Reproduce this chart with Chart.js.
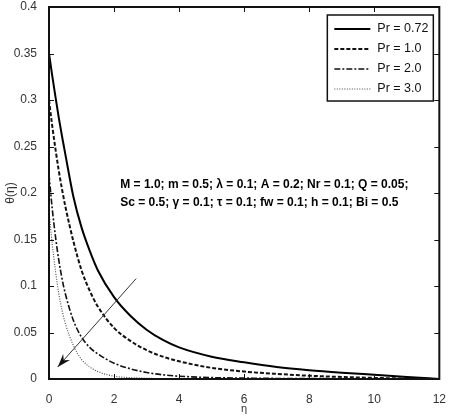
<!DOCTYPE html>
<html>
<head>
<meta charset="utf-8">
<script src="https://cdn.jsdelivr.net/npm/chart.js@4"></script>
<style>
  html, body { margin: 0; padding: 0; background: #fff; }
  #wrap { width: 451px; height: 416px; }
</style>
</head>
<body>
<div id="wrap"><canvas id="thetaChart" width="451" height="416"></canvas></div>
<script>
// eta grid shared by all curves
const eta = [0, 0.1, 0.2, 0.3, 0.4, 0.5, 0.75, 1, 1.25, 1.5, 2, 2.5, 3, 3.5, 4, 5, 6, 7, 8, 9, 10, 11, 12];

const prLabels = ["Pr = 0.72", "Pr = 1.0", "Pr = 2.0", "Pr = 3.0"];

const thetaPr072 = [0.35, 0.326, 0.303, 0.281, 0.261, 0.242, 0.196, 0.163, 0.138, 0.117, 0.088, 0.068, 0.053, 0.042, 0.034, 0.024, 0.018, 0.013, 0.0095, 0.0068, 0.0045, 0.0022, 0];
const thetaPr10  = [0.30, 0.272, 0.247, 0.224, 0.204, 0.186, 0.148, 0.117, 0.095, 0.078, 0.055, 0.041, 0.031, 0.024, 0.019, 0.012, 0.008, 0.0055, 0.0035, 0.0022, 0.0012, 0.0005, 0];
const thetaPr20  = [0.22, 0.183, 0.153, 0.128, 0.108, 0.092, 0.063, 0.045, 0.034, 0.027, 0.017, 0.011, 0.007, 0.0045, 0.003, 0.0015, 0.001, 0.0006, 0.0004, 0.0003, 0.0002, 0.0001, 0];
const thetaPr30  = [0.18, 0.145, 0.116, 0.092, 0.074, 0.060, 0.036, 0.021, 0.013, 0.008, 0.003, 0.0015, 0.0008, 0.0004, 0.0002, 0.0001, 0, 0, 0, 0, 0, 0, 0];

const xTicks = [0, 2, 4, 6, 8, 10, 12];
const yTicks = [0, 0.05, 0.1, 0.15, 0.2, 0.25, 0.3, 0.35, 0.4];

const paramText = [
    "M = 1.0; m = 0.5; \u03bb = 0.1; A = 0.2; Nr = 0.1; Q = 0.05;",
    "Sc = 0.5; \u03b3 = 0.1; \u03c4 = 0.1; fw = 0.1; h = 0.1; Bi = 0.5"
];
const paramAt = { x: 2.19, y: 0.209 };   // text anchor in data units
const arrowFrom = { x: 2.68, y: 0.108 }; // arrow (increasing Pr)
const arrowTo = { x: 0.27, y: 0.013 };

const dashes = [[], [4, 2], [6, 2, 2, 2], [1, 1.5]];
const widths = [2, 2, 1.6, 1.1];
const colors = ["#000", "#111", "#111", "#444"];
const series = [thetaPr072, thetaPr10, thetaPr20, thetaPr30];

const datasets = series.map((vals, i) => ({
    label: prLabels[i],
    data: eta.map((e, k) => ({ x: e, y: vals[k] })),
    borderColor: colors[i],
    borderWidth: widths[i],
    borderDash: dashes[i],
    pointRadius: 0,
    fill: false,
    cubicInterpolationMode: "monotone"
}));

const FONT = "'Liberation Sans', Arial, sans-serif";

const decor = {
    id: "decor",
    afterDraw(chart) {
        const ctx = chart.ctx;
        const xs = chart.scales.x, ys = chart.scales.y;
        const a = chart.chartArea;
        ctx.save();

        // box + inward ticks
        ctx.strokeStyle = "#111";
        ctx.lineWidth = 2;
        ctx.strokeRect(a.left, a.top, a.right - a.left, a.bottom - a.top);
        ctx.lineWidth = 1;
        ctx.beginPath();
        xTicks.forEach(t => {
            const px = Math.round(xs.getPixelForValue(t)) + 0.5;
            ctx.moveTo(px, a.bottom); ctx.lineTo(px, a.bottom - 5);
            ctx.moveTo(px, a.top); ctx.lineTo(px, a.top + 5);
        });
        yTicks.forEach(t => {
            const py = Math.round(ys.getPixelForValue(t)) + 0.5;
            ctx.moveTo(a.left, py); ctx.lineTo(a.left + 5, py);
            ctx.moveTo(a.right, py); ctx.lineTo(a.right - 5, py);
        });
        ctx.stroke();

        // parameter text
        ctx.fillStyle = "#000";
        ctx.font = "bold 12px " + FONT;
        ctx.textBaseline = "middle";
        ctx.textAlign = "left";
        const tx = xs.getPixelForValue(paramAt.x), ty = ys.getPixelForValue(paramAt.y);
        paramText.forEach((s, i) => ctx.fillText(s, tx, ty + i * 18));

        // arrow
        const x1 = xs.getPixelForValue(arrowFrom.x), y1 = ys.getPixelForValue(arrowFrom.y);
        const x2 = xs.getPixelForValue(arrowTo.x), y2 = ys.getPixelForValue(arrowTo.y);
        ctx.strokeStyle = "#333";
        ctx.lineWidth = 1;
        ctx.beginPath(); ctx.moveTo(x1, y1); ctx.lineTo(x2, y2); ctx.stroke();
        const ang = Math.atan2(y2 - y1, x2 - x1);
        ctx.fillStyle = "#111";
        ctx.beginPath();
        ctx.moveTo(x2, y2);
        ctx.lineTo(x2 - 14 * Math.cos(ang - 0.33), y2 - 14 * Math.sin(ang - 0.33));
        ctx.lineTo(x2 - 9 * Math.cos(ang), y2 - 9 * Math.sin(ang));
        ctx.lineTo(x2 - 14 * Math.cos(ang + 0.33), y2 - 14 * Math.sin(ang + 0.33));
        ctx.closePath();
        ctx.fill();

        // legend box, top right inside the axes
        const bw = 106, bh = 86;
        const bx = a.right - 112, by = a.top + 8;
        ctx.fillStyle = "#fff";
        ctx.fillRect(bx, by, bw, bh);
        ctx.strokeStyle = "#111";
        ctx.lineWidth = 1.5;
        ctx.strokeRect(bx, by, bw, bh);
        ctx.font = "12.5px " + FONT;
        ctx.textBaseline = "middle";
        prLabels.forEach((lab, i) => {
            const ly = by + 14 + i * 20;
            ctx.strokeStyle = colors[i];
            ctx.lineWidth = widths[i];
            ctx.setLineDash(dashes[i]);
            ctx.beginPath(); ctx.moveTo(bx + 7, ly); ctx.lineTo(bx + 43, ly); ctx.stroke();
            ctx.setLineDash([]);
            ctx.fillStyle = "#111";
            ctx.fillText(lab, bx + 50, ly);
        });
        ctx.restore();
    }
};

new Chart(document.getElementById("thetaChart"), {
    type: "line",
    data: { datasets: datasets },
    options: {
        responsive: false,
        animation: false,
        layout: { padding: { top: 0, right: 2, left: 3, bottom: 0 } },
        plugins: { legend: { display: false }, tooltip: { enabled: false } },
        scales: {
            x: {
                type: "linear", min: 0, max: 12,
                afterFit: s => { s.height = 37; },
                afterBuildTicks: s => { s.ticks = xTicks.map(v => ({ value: v })); },
                grid: { display: false },
                border: { display: false },
                ticks: { color: "#333", font: { family: FONT, size: 12 }, padding: 5, callback: v => v },
                title: { display: true, text: "\u03b7", color: "#333", font: { family: FONT, size: 11 }, padding: { top: 2, bottom: 0 } }
            },
            y: {
                type: "linear", min: 0, max: 0.4,
                afterFit: s => { s.width = 46; },
                afterBuildTicks: s => { s.ticks = yTicks.map(v => ({ value: v })); },
                grid: { display: false },
                border: { display: false },
                ticks: { color: "#333", font: { family: FONT, size: 12, lineHeight: 0.5 }, padding: 4, callback: v => String(+v.toFixed(2)) },
                title: { display: true, text: "\u03b8(\u03b7)", color: "#333", font: { family: FONT, size: 12 }, padding: { top: 0, bottom: 2 } }
            }
        }
    },
    plugins: [decor]
});
</script>
</body>
</html>
